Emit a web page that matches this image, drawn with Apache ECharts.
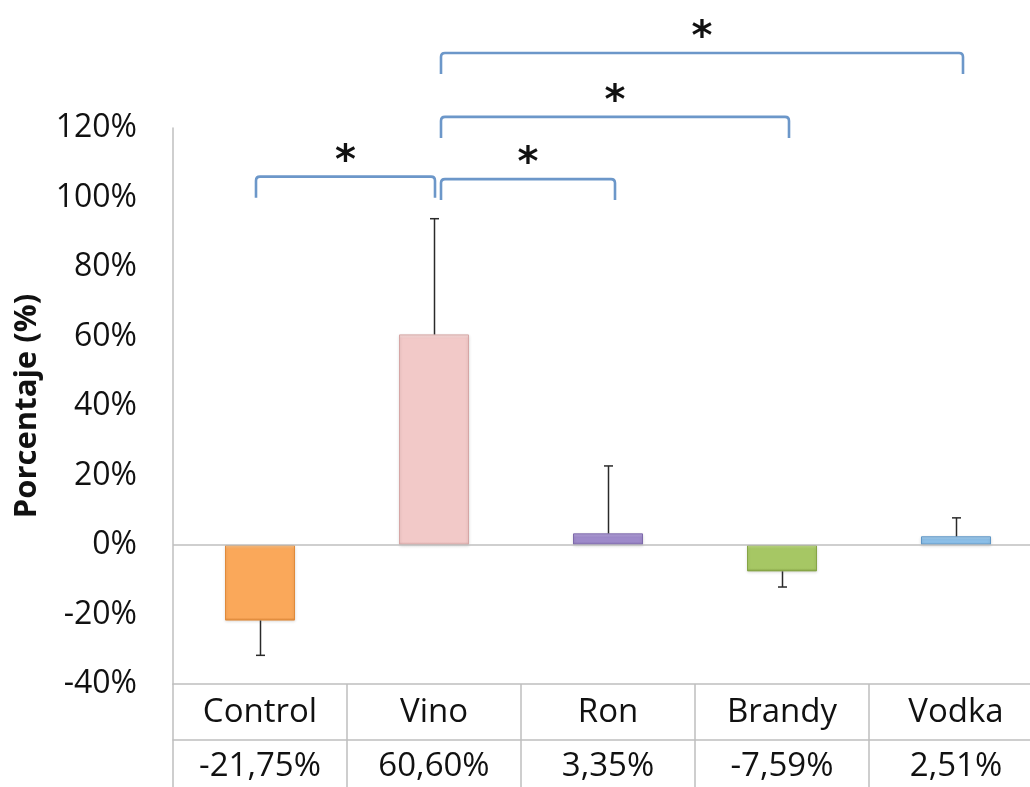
<!DOCTYPE html>
<html>
<head>
<meta charset="utf-8">
<script src="https://cdn.jsdelivr.net/npm/echarts@6/dist/echarts.min.js"></script>
<style>
html,body{margin:0;padding:0;background:#fff;overflow:hidden;}
#chart{width:1046px;height:787px;}
</style>
</head>
<body>
<div id="chart"></div>
<script>
// ---- data ----
var categories = ['Control', 'Vino', 'Ron', 'Brandy', 'Vodka'];
var values = [-21.75, 60.60, 3.35, -7.59, 2.51];
var errors = [10.0, 33.3, 19.4, 4.5, 5.3];
var valueLabels = ['-21,75%', '60,60%', '3,35%', '-7,59%', '2,51%'];
var yMin = -40, yMax = 120, yStep = 20;
var bracketPairs = [[0, 1], [1, 2], [1, 3], [1, 4]];
var bracketLevels = [106, 105.3, 123.2, 141.6];
var bracketMarks = ['*', '*', '*', '*'];

// ---- styles ----
var barColors = [
  ['#FEC48A', '#FAA85A', '#E08A3A'],
  ['#FBE3E2', '#F2C9C8', '#D6A6A5'],
  ['#BBA9E0', '#9E8ACA', '#7D69AA'],
  ['#C4E08A', '#A6C764', '#86A446'],
  ['#B8DAF4', '#8CBFE8', '#5E96C6']
];
var FONT = 'Open Sans';
var PLOT_H = 556;

var chart = echarts.init(document.getElementById('chart'), null, {renderer: 'canvas'});

var barData = values.map(function (v, i) {
  var c = barColors[i];
  var hPx = Math.max(6, Math.abs(v) / (yMax - yMin) * PLOT_H);
  var t = Math.min(0.35, 4 / hPx), b = Math.min(0.3, 3 / hPx);
  return {
    value: v,
    itemStyle: {
      color: new echarts.graphic.LinearGradient(0, 0, 0, 1, [
        {offset: 0, color: c[0]},
        {offset: t, color: c[1]},
        {offset: 1 - b, color: c[1]},
        {offset: 1, color: c[2]}
      ]),
      borderColor: c[2],
      borderWidth: 1,
      shadowColor: 'rgba(0,0,0,0.15)',
      shadowBlur: 3,
      shadowOffsetY: 1
    }
  };
});

var errData = values.map(function (v, i) { return [i, v, errors[i]]; });
var bracketData = bracketPairs.map(function (p, i) { return [p[0], p[1], bracketLevels[i], i]; });

var option = {
  animation: false,
  backgroundColor: '#ffffff',
  grid: {left: 173, top: 128, width: 870, height: PLOT_H, containLabel: false},
  xAxis: [{
    type: 'category',
    data: categories,
    position: 'bottom',
    axisLine: {onZero: false, lineStyle: {color: '#BFBFBF', width: 1.5}},
    axisTick: {show: true, length: 110, lineStyle: {color: '#BFBFBF', width: 1.5}},
    axisLabel: {
      margin: 2,
      interval: 0,
      formatter: function (val, idx) { return '{a|' + val + '}\n{b|' + valueLabels[idx] + '}'; },
      rich: {
        a: {fontFamily: FONT, fontSize: 33, color: '#111', lineHeight: 54},
        b: {fontFamily: FONT, fontSize: 33, color: '#111', lineHeight: 54}
      }
    },
    splitLine: {show: false}
  }, {
    type: 'category',
    data: categories,
    position: 'bottom',
    offset: 56,
    axisLine: {onZero: false, lineStyle: {color: '#BFBFBF', width: 1.5}},
    axisTick: {show: false},
    axisLabel: {show: false}
  }],
  yAxis: {
    type: 'value',
    min: yMin, max: yMax, interval: yStep,
    name: 'Porcentaje (%)',
    nameLocation: 'middle',
    nameGap: 130,
    nameTextStyle: {fontFamily: FONT, fontSize: 31, fontWeight: 'bold', color: '#111'},
    axisLine: {show: true, lineStyle: {color: '#BFBFBF', width: 1.5}},
    axisTick: {show: false},
    splitLine: {show: false},
    axisLabel: {
      margin: 36,
      fontFamily: FONT, fontSize: 32, color: '#111',
      formatter: function (v) { return v + '%'; }
    }
  },
  series: [{
    type: 'bar',
    data: barData,
    barWidth: 70,
    markLine: {
      silent: true,
      symbol: ['none', 'none'],
      label: {show: false},
      lineStyle: {color: '#BFBFBF', width: 1.5, type: 'solid'},
      data: [{yAxis: 0}]
    },
    z: 2
  }, {
    type: 'custom',
    data: errData,
    z: 3,
    renderItem: function (params, api) {
      var idx = api.value(0), v = api.value(1), e = api.value(2);
      var end = v >= 0 ? v + e : v - e;
      var p0 = api.coord([idx, v]);
      var p1 = api.coord([idx, end]);
      var x = Math.round(p0[0]) + 0.5;
      var style = {stroke: '#2a2a2a', lineWidth: 1.5};
      return {
        type: 'group',
        children: [
          {type: 'line', shape: {x1: x, y1: p0[1], x2: x, y2: p1[1]}, style: style},
          {type: 'line', shape: {x1: x - 4.5, y1: p1[1], x2: x + 4.5, y2: p1[1]}, style: style}
        ]
      };
    }
  }, {
    type: 'custom',
    data: bracketData,
    clip: false,
    z: 4,
    silent: true,
    renderItem: function (params, api) {
      var a = api.value(0), b = api.value(1), lvl = api.value(2), k = api.value(3);
      var pa = api.coord([a, lvl]);
      var pb = api.coord([b, lvl]);
      var legPx = 21;
      var x1 = pa[0] + (a === 1 ? 7 : -4);
      var x2 = pb[0] + (b === 1 ? 1 : 7);
      var y = pa[1];
      var r = 4;
      var style = {stroke: '#6C97C9', lineWidth: 2.6, fill: null, lineJoin: 'round', lineCap: 'butt'};
      var path = 'M' + x1 + ' ' + (y + legPx) + ' L' + x1 + ' ' + (y + r) +
        ' Q' + x1 + ' ' + y + ' ' + (x1 + r) + ' ' + y +
        ' L' + (x2 - r) + ' ' + y +
        ' Q' + x2 + ' ' + y + ' ' + x2 + ' ' + (y + r) +
        ' L' + x2 + ' ' + (y + legPx);
      return {
        type: 'group',
        children: [
          {type: 'path', shape: {pathData: path}, style: style},
          {type: 'text', style: {
            text: bracketMarks[k], x: (x1 + x2) / 2, y: y - 14,
            fontFamily: 'DejaVu Sans', fontSize: 40, fontWeight: 'bold', fill: '#111',
            align: 'center', verticalAlign: 'middle'
          }}
        ]
      };
    }
  }]
};

chart.setOption(option);
</script>
</body>
</html>
